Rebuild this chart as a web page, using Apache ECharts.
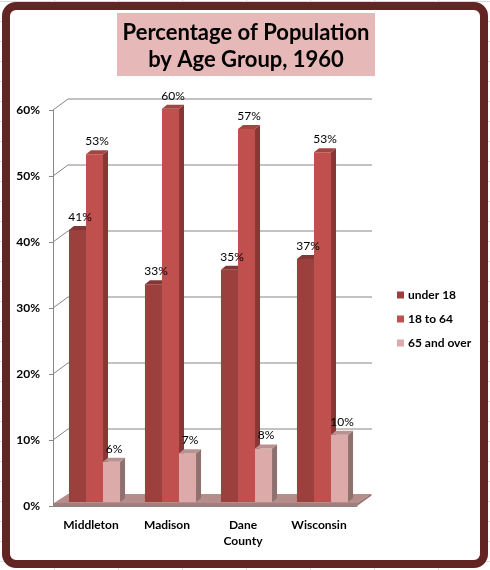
<!DOCTYPE html>
<html>
<head>
<meta charset="utf-8">
<script src="https://cdn.jsdelivr.net/npm/echarts@6/dist/echarts.min.js"></script>
<style>
  html, body { margin: 0; padding: 0; background: #fff; }
  #chart { width: 490px; height: 570px; }
</style>
</head>
<body>
<div id="chart"></div>
<script>
// chart data
var categories = ['Middleton', 'Madison', 'Dane County', 'Wisconsin'];
var seriesNames = ['under 18', '18 to 64', '65 and over'];
var under18 = [41.2, 33.0, 35.2, 36.8];
var age18to64 = [52.7, 59.6, 56.5, 53.0];
var over65 = [6.1, 7.4, 8.1, 10.2];
var yTicks = [0, 10, 20, 30, 40, 50, 60];

// colours per series: front / side / top
var palette = [
    { front: '#9C403E', side: '#74302E', top: '#833634' },
    { front: '#C0504D', side: '#8A3634', top: '#A54441' },
    { front: '#DBAAA9', side: '#8E716F', top: '#B99190' }
];

var DEPTH_X = 15, DEPTH_Y = 11;   // back wall offset
var BAR_D = 5, BAR_H = 4;         // bar side / top depth

function barBox(api, idx, v, k) {
    var base = api.coord([idx, 0]);
    var top = api.coord([idx, v]);
    var band = api.size([1, 0])[0];
    var w = band * 0.224;
    var x = base[0] - 1.5 * w + k * w + 3.5;
    return { x: x, w: w, yb: base[1] - 4, yt: top[1] - 4 };
}

function barSeries(name, values, k) {
    var c = palette[k];
    return {
        type: 'custom',
        name: name,
        z: 3,
        itemStyle: { color: c.front },
        data: values.map(function (v, i) { return [i, v]; }),
        renderItem: function (params, api) {
            var b = barBox(api, api.value(0), api.value(1), k);
            return {
                type: 'group',
                children: [
                    { type: 'rect', shape: { x: b.x, y: b.yt, width: b.w, height: b.yb - b.yt },
                      style: { fill: c.front } },
                    { type: 'polygon', shape: { points: [[b.x + b.w, b.yt], [b.x + b.w + BAR_D, b.yt - BAR_H],
                        [b.x + b.w + BAR_D, b.yb - BAR_H], [b.x + b.w, b.yb]] },
                      style: { fill: c.side } },
                    { type: 'polygon', shape: { points: [[b.x, b.yt], [b.x + BAR_D, b.yt - BAR_H],
                        [b.x + b.w + BAR_D, b.yt - BAR_H], [b.x + b.w, b.yt]] },
                      style: { fill: c.top } }
                ]
            };
        }
    };
}

// label data: [category, value, series]
var labelData = [];
[under18, age18to64, over65].forEach(function (arr, k) {
    arr.forEach(function (v, i) { labelData.push([i, v, k]); });
});

var chart = echarts.init(document.getElementById('chart'));

var bgLines = [];
for (var gx = 54; gx < 490; gx += 64) {
    bgLines.push({ type: 'line', z: -20, shape: { x1: gx + 0.5, y1: 0, x2: gx + 0.5, y2: 570 },
        style: { stroke: '#D9DBDD', lineWidth: 1 } });
}
for (var gy = 1; gy < 570; gy += 20) {
    bgLines.push({ type: 'line', z: -20, shape: { x1: 0, y1: gy + 0.5, x2: 490, y2: gy + 0.5 },
        style: { stroke: '#D9DBDD', lineWidth: 1 } });
}

chart.setOption({
    backgroundColor: '#fff',
    animation: false,
    textStyle: { fontFamily: 'Lato' },
    graphic: bgLines.concat([
        { type: 'rect', z: -10, shape: { x: 6, y: 6, width: 478, height: 558, r: 10 },
          style: { fill: '#fff', stroke: '#632523', lineWidth: 8 } },
        { type: 'rect', z: -5, shape: { x: 117, y: 13, width: 258, height: 63 },
          style: { fill: '#E6B9B8' } }
    ]),
    title: {
        text: 'Percentage of Population\nby Age Group, 1960',
        left: 241,
        top: 14,
        textAlign: 'center',
        textStyle: { fontFamily: 'Lato', fontWeight: 'bold', fontSize: 22, lineHeight: 27, color: '#000' }
    },
    legend: {
        orient: 'vertical',
        left: 392,
        top: 284,
        icon: 'rect',
        itemWidth: 7,
        itemHeight: 7,
        itemGap: 12,
        data: seriesNames,
        textStyle: { fontFamily: 'Lato', fontWeight: 'bold', fontSize: 12, color: '#000', padding: [0, 0, 0, -1] }
    },
    grid: { left: 53, top: 110, right: 133, bottom: 64 },
    xAxis: {
        type: 'category',
        data: categories,
        axisLine: { lineStyle: { color: '#868686' } },
        axisTick: { length: 5, lineStyle: { color: '#868686' } },
        axisLabel: {
            margin: 11,
            fontFamily: 'Lato', fontWeight: 'bold', fontSize: 12, color: '#000', lineHeight: 16,
            formatter: function (v) { return v.replace(' ', '\n'); }
        }
    },
    yAxis: {
        type: 'value',
        min: 0,
        max: 60,
        interval: 10,
        axisLine: { show: true, lineStyle: { color: '#868686' } },
        axisTick: { show: true, length: 4, lineStyle: { color: '#868686' } },
        splitLine: { show: false },
        axisLabel: { margin: 13, fontFamily: 'Lato', fontWeight: 'bold', fontSize: 12, color: '#000', formatter: '{value}%' }
    },
    series: [
        {
            type: 'custom',
            name: 'gridlines',
            z: 1,
            silent: true,
            data: yTicks.map(function (v) { return [0, v]; }),
            renderItem: function (params, api) {
                var cs = params.coordSys;
                var y = api.coord([0, api.value(1)])[1];
                return {
                    type: 'polyline',
                    shape: { points: [[cs.x, y], [cs.x + DEPTH_X, y - DEPTH_Y], [cs.x + cs.width + DEPTH_X, y - DEPTH_Y]] },
                    style: { stroke: '#868686', lineWidth: 1, fill: null }
                };
            }
        },
        {
            type: 'custom',
            name: 'floor',
            z: 2,
            silent: true,
            data: [[0, 0]],
            renderItem: function (params, api) {
                var cs = params.coordSys;
                var y0 = api.coord([0, 0])[1];
                var xl = cs.x + 1, xr = cs.x + cs.width;
                return {
                    type: 'group',
                    children: [
                        { type: 'polygon', shape: { points: [[xl, y0 - 3], [xr, y0 - 3], [xr + 14, y0 - 12], [xl + 14, y0 - 12]] },
                          style: { fill: '#B58D8B' } },
                        { type: 'polygon', shape: { points: [[xl, y0 - 3], [xr, y0 - 3], [xr, y0], [xl, y0]] },
                          style: { fill: '#A27E7C' } },
                        { type: 'polygon', shape: { points: [[xr, y0 - 3], [xr + 14, y0 - 12], [xr + 14, y0 - 10], [xr, y0]] },
                          style: { fill: '#9A7876' } }
                    ]
                };
            }
        },
        barSeries(seriesNames[0], under18, 0),
        barSeries(seriesNames[1], age18to64, 1),
        barSeries(seriesNames[2], over65, 2),
        {
            type: 'custom',
            name: 'labels',
            z: 5,
            silent: true,
            data: labelData,
            renderItem: function (params, api) {
                var v = api.value(1);
                var b = barBox(api, api.value(0), v, api.value(2));
                return {
                    type: 'text',
                    style: {
                        text: Math.round(v) + '%',
                        x: b.x + (b.w + BAR_D) / 2,
                        y: b.yt - BAR_H - 3,
                        align: 'center',
                        verticalAlign: 'bottom',
                        font: '12px Lato',
                        fill: '#000'
                    }
                };
            }
        }
    ]
});
</script>
</body>
</html>
